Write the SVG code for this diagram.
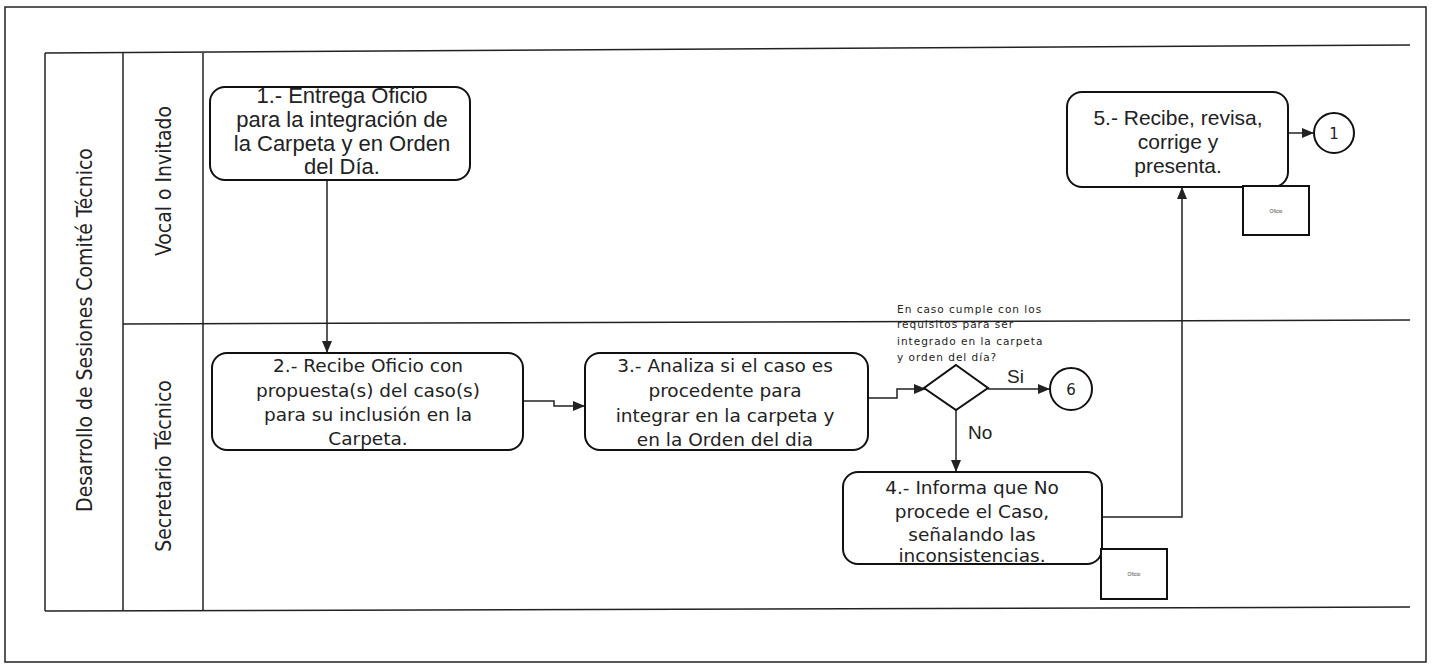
<svg xmlns="http://www.w3.org/2000/svg" width="1434" height="670" viewBox="0 0 1434 670">
<defs>
<marker id="ah" markerWidth="12" markerHeight="10" refX="11" refY="5" orient="auto" markerUnits="userSpaceOnUse">
<path d="M0,0 L12,5 L0,10 z" fill="#222"/>
</marker>
<style>
.frame{fill:none;stroke:#222;stroke-width:1.5}
.node{fill:#fff;stroke:#111;stroke-width:2}
.doc{fill:#fff;stroke:#111;stroke-width:2}
.conn{fill:none;stroke:#222;stroke-width:1.5}
.c{font-family:"Liberation Sans",Arial,sans-serif;font-size:21px;fill:#222;text-anchor:middle}
.c1{font-size:22px}
.v{font-family:"DejaVu Sans",Verdana,sans-serif;font-size:18.5px;fill:#222;text-anchor:middle}
.lane{font-family:"DejaVu Sans Condensed","Liberation Sans",sans-serif;font-stretch:condensed;font-size:21px;fill:#222;text-anchor:middle}
.small{font-family:"DejaVu Sans",Verdana,sans-serif;font-size:10.5px;letter-spacing:1px;fill:#222}
.tiny{font-family:"Liberation Sans",Arial,sans-serif;font-size:5px;fill:#444;text-anchor:middle}
.lbl{font-family:"Liberation Sans",Arial,sans-serif;font-size:19px;fill:#222}
.num{font-family:"DejaVu Sans",Verdana,sans-serif;font-size:15px;fill:#222;text-anchor:middle}
</style>
</defs>
<rect x="0" y="0" width="1434" height="670" fill="#fff"/>
<g id="frame">
<rect class="frame" x="5" y="7" width="1421" height="655"/>
<line class="frame" x1="45" y1="53" x2="1410" y2="45"/>
<line class="frame" x1="45" y1="53" x2="45" y2="611"/>
<line class="frame" x1="123" y1="53" x2="123" y2="611"/>
<line class="frame" x1="203" y1="53" x2="203" y2="611"/>
<line class="frame" x1="45" y1="611" x2="1410" y2="607"/>
<line class="frame" x1="123" y1="324" x2="1410" y2="320"/>
<text class="lane" transform="translate(92,330) rotate(-90)">Desarrollo de Sesiones Comité Técnico</text>
<text class="lane" transform="translate(171,181) rotate(-90)">Vocal o Invitado</text>
<text class="lane" transform="translate(171,466) rotate(-90)">Secretario Técnico</text>
</g>
<g id="connectors">
<line class="conn" x1="327" y1="180" x2="327" y2="352" marker-end="url(#ah)"/>
<polyline class="conn" points="523,401 554,401 554,406 584,406" marker-end="url(#ah)"/>
<polyline class="conn" points="868,398 897,398 897,389 925,389" marker-end="url(#ah)"/>
<line class="conn" x1="988" y1="389" x2="1049" y2="389" marker-end="url(#ah)"/>
<line class="conn" x1="956" y1="410" x2="956" y2="471" marker-end="url(#ah)"/>
<polyline class="conn" points="1103,517 1182,517 1182,188" marker-end="url(#ah)"/>
<line class="conn" x1="1289" y1="133" x2="1313" y2="133" marker-end="url(#ah)"/>
<text class="lbl" x="1007" y="383">Si</text>
<text class="lbl" x="968" y="439">No</text>
</g>
<g id="n1">
<rect class="node" x="210" y="87" width="260" height="93" rx="15"/>
<text class="c c1" x="342" y="103">1.- Entrega Oficio</text>
<text class="c c1" x="342" y="127">para la integración de</text>
<text class="c c1" x="342" y="151">la Carpeta y en Orden</text>
<text class="c c1" x="342" y="174">del Día.</text>
</g>
<g id="n2">
<rect class="node" x="212" y="353" width="311" height="97" rx="15"/>
<text class="v" x="368" y="372">2.- Recibe Oficio con</text>
<text class="v" x="368" y="397">propuesta(s) del caso(s)</text>
<text class="v" x="368" y="421">para su inclusión en la</text>
<text class="v" x="368" y="445">Carpeta.</text>
</g>
<g id="n3">
<rect class="node" x="585" y="353" width="283" height="97" rx="15"/>
<text class="v" x="725" y="372">3.- Analiza si el caso es</text>
<text class="v" x="725" y="397">procedente para</text>
<text class="v" x="725" y="422">integrar en la carpeta y</text>
<text class="v" x="725" y="446">en la Orden del dia</text>
</g>
<g id="decision">
<polygon class="node" points="956,365 988,388 956,410 924,388"/>
<text class="small" x="897" y="313">En caso cumple con los</text>
<text class="small" x="897" y="328">requisitos para ser</text>
<text class="small" x="897" y="345">integrado en la carpeta</text>
<text class="small" x="897" y="361">y orden del día?</text>
</g>
<g id="c6">
<circle class="node" cx="1071" cy="389" r="21"/>
<text class="num" x="1071" y="395">6</text>
</g>
<g id="n4">
<rect class="node" x="843" y="472" width="259" height="92" rx="15"/>
<text class="v" x="972" y="494">4.- Informa que No</text>
<text class="v" x="972" y="518">procede el Caso,</text>
<text class="v" x="972" y="541">señalando las</text>
<text class="v" x="972" y="562">inconsistencias.</text>
</g>
<g id="doc2">
<rect class="doc" x="1101" y="549" width="66" height="50"/>
<text class="tiny" x="1134" y="576">Oficio</text>
</g>
<g id="n5">
<rect class="node" x="1067" y="92" width="221" height="95" rx="15"/>
<text class="c" x="1178" y="125">5.- Recibe, revisa,</text>
<text class="c" x="1178" y="149">corrige y</text>
<text class="c" x="1178" y="173">presenta.</text>
</g>
<g id="doc1">
<rect class="doc" x="1243" y="186" width="66" height="49"/>
<text class="tiny" x="1276" y="213">Oficio</text>
</g>
<g id="c1">
<circle class="node" cx="1334" cy="133" r="20"/>
<text class="num" x="1334" y="139">1</text>
</g>
</svg>
